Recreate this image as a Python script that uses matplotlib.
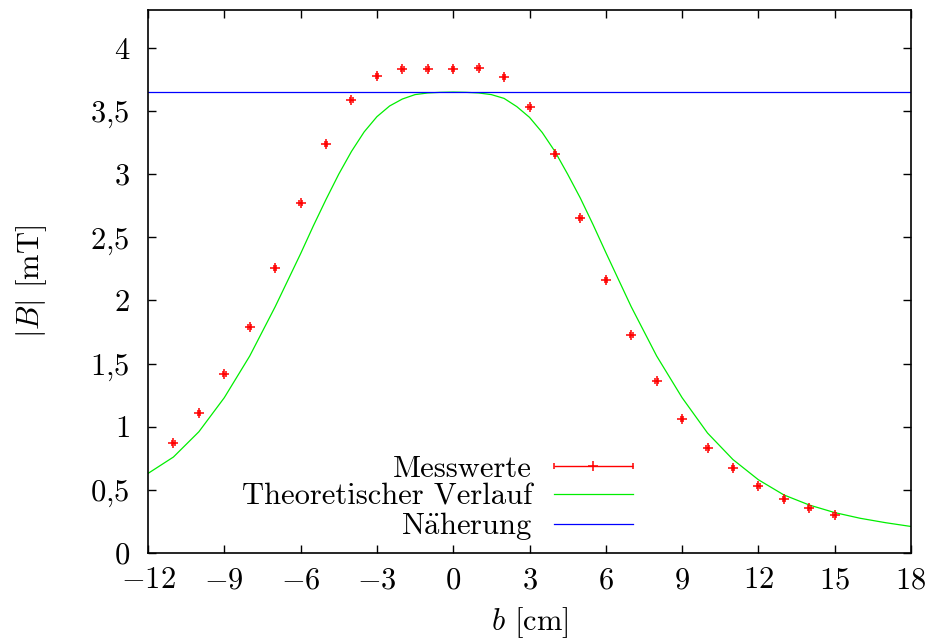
import matplotlib
matplotlib.use("Agg")
import matplotlib.pyplot as plt
from matplotlib.legend_handler import HandlerErrorbar
from matplotlib.ticker import FixedLocator, FuncFormatter

plt.rcParams["font.family"] = ["cmr10", "DejaVu Serif"]
plt.rcParams["mathtext.fontset"] = "cm"
plt.rcParams["axes.formatter.use_mathtext"] = True

# Messwerte
b_mess = [-11, -10, -9, -8, -7, -6, -5, -4, -3, -2, -1, 0, 1, 2, 3,
          4, 5, 6, 7, 8, 9, 10, 11, 12, 13, 14, 15]
B_mess = [0.87, 1.11, 1.42, 1.79, 2.26, 2.77, 3.24, 3.59, 3.78, 3.83, 3.83,
          3.83, 3.84, 3.77, 3.53, 3.16, 2.65, 2.16, 1.73, 1.36, 1.06, 0.83,
          0.67, 0.53, 0.43, 0.36, 0.30]
b_fehler = [0.05] * len(b_mess)

# theoretischer Verlauf
b_theo = [-12, -11, -10, -9, -8, -7, -6, -5.5, -5, -4.5, -4, -3.5, -3, -2.5,
          -2, -1.5, -1, -0.5, 0, 0.5, 1, 1.5, 2, 2.5, 3, 3.5, 4, 4.5, 5, 5.5,
          6, 7, 8, 9, 10, 11, 12, 13, 14, 15, 16, 17, 18]
B_theo = [0.63, 0.76, 0.96, 1.23, 1.56, 1.95, 2.37, 2.59, 2.80, 3.00, 3.18,
          3.335, 3.455, 3.54, 3.595, 3.63, 3.643, 3.648, 3.65, 3.648, 3.643,
          3.63, 3.60, 3.535, 3.45, 3.33, 3.18, 3.00, 2.81, 2.60, 2.38, 1.95,
          1.56, 1.23, 0.95, 0.74, 0.58, 0.46, 0.38, 0.32, 0.275, 0.24, 0.21]

B_naeherung = 3.65

x_ticks = [-12, -9, -6, -3, 0, 3, 6, 9, 12, 15, 18]
y_ticks = [0, 0.5, 1, 1.5, 2, 2.5, 3, 3.5, 4]

FS = 22


def fmt(v, pos=None):
    s = f"{v:g}".replace(".", "{,}")
    return f"${s}$"


fig = plt.figure(figsize=(9.31, 6.43), dpi=100)
ax = fig.add_axes([148 / 931, 1 - 553 / 643, (911 - 148) / 931, (553 - 10) / 643])

eb = ax.errorbar(b_mess, B_mess, xerr=b_fehler, fmt="+", color="#ff0000",
                 ms=7, mew=1.1, elinewidth=1.0, capsize=2.5, capthick=1.0,
                 label="Messwerte", zorder=3)
theo, = ax.plot(b_theo, B_theo, color="#00ee00", lw=0.9,
                label="Theoretischer Verlauf")
naeh = ax.axhline(B_naeherung, color="#0000ff", lw=0.9,
                  label=r"N$\ddot{\mathrm{a}}$herung")

ax.set_xlim(-12, 18)
ax.set_ylim(0, 4.3)
ax.xaxis.set_major_locator(FixedLocator(x_ticks))
ax.yaxis.set_major_locator(FixedLocator(y_ticks))
ax.xaxis.set_major_formatter(FuncFormatter(fmt))
ax.yaxis.set_major_formatter(FuncFormatter(fmt))
ax.tick_params(direction="in", top=True, right=True, length=6, width=1.0,
               labelsize=FS)
ax.tick_params(axis="x", pad=10)
ax.tick_params(axis="y", pad=13)
for sp in ax.spines.values():
    sp.set_linewidth(1.2)

ax.set_xlabel("$b$ [cm]", fontsize=FS, labelpad=8)
ax.set_ylabel("$|B|$ [mT]", fontsize=FS, labelpad=30)

leg = ax.legend([eb, theo, naeh],
                ["Messwerte", "Theoretischer Verlauf", r"N$\ddot{\mathrm{a}}$herung"],
                loc="center right", bbox_to_anchor=(633 / 931, 1 - 499 / 643),
                bbox_transform=fig.transFigure, frameon=False, markerfirst=False,
                fontsize=FS, handlelength=2.6, handletextpad=0.7,
                labelspacing=0.0, borderpad=0, borderaxespad=0,
                handler_map={type(eb): HandlerErrorbar(xerr_size=1.3)})

fig.savefig("out.png", dpi=100)
